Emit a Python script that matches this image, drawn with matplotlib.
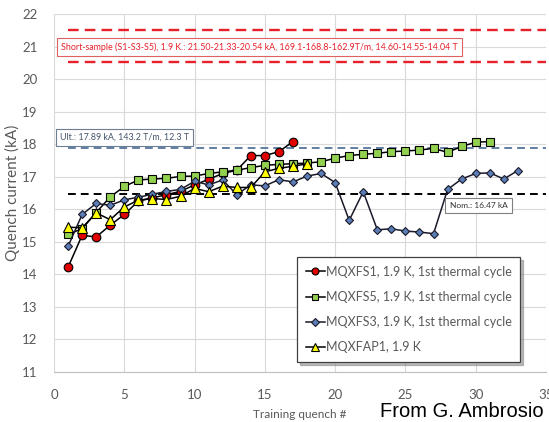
import numpy as np
import matplotlib.pyplot as plt
from matplotlib.lines import Line2D

plt.rcParams['font.family'] = ['Lato', 'DejaVu Sans']

# training quenches
x_s1 = list(range(1, 18))
mqxfs1 = [14.22, 15.2, 15.15, 15.51, 15.84, 16.25, 16.35, 16.45, 16.55, 16.75,
          16.92, 17.1, 17.2, 17.65, 17.65, 17.77, 18.08]

x_s5 = list(range(1, 32))
mqxfs5 = [15.23, 15.4, 15.9, 16.38, 16.7, 16.9, 16.93, 16.95, 17.01, 17.02,
          17.1, 17.15, 17.2, 17.28, 17.35, 17.38, 17.4, 17.42, 17.46, 17.57,
          17.65, 17.69, 17.72, 17.77, 17.79, 17.82, 17.87, 17.75, 17.93, 18.06,
          18.08]

x_s3 = list(range(1, 34))
mqxfs3 = [14.86, 15.84, 16.18, 16.12, 16.29, 16.37, 16.46, 16.55, 16.61, 16.86,
          16.75, 16.9, 16.45, 16.75, 16.72, 16.91, 16.84, 17.02, 17.1, 16.82,
          15.66, 16.54, 15.37, 15.4, 15.33, 15.3, 15.25, 16.61, 16.93, 17.1,
          17.12, 16.93, 17.19]

x_ap1 = list(range(1, 19))
mqxfap1 = [15.45, 15.43, 15.89, 15.68, 16.07, 16.28, 16.33, 16.3, 16.4, 16.64,
           16.54, 16.71, 16.67, 16.67, 17.15, 17.26, 17.32, 17.4]

ref_x = [1, 35]
short_sample = [21.50, 20.54]
ultimate = 17.89
nominal = 16.47

labels = ['MQXFS1, 1.9 K, 1st thermal cycle',
          'MQXFS5, 1.9 K, 1st thermal cycle',
          'MQXFS3, 1.9 K, 1st thermal cycle',
          'MQXFAP1, 1.9 K']

grey = '#595959'

fig = plt.figure(figsize=(5.49, 4.22), dpi=100)
ax = fig.add_axes([54/549, 1-372/422, 492/549, 358/422])

# reference levels
for v in short_sample:
    ax.plot(ref_x, [v, v], color='#E8202A', lw=1.7, dashes=(4.5, 2.6), zorder=2)
ax.plot(ref_x, [ultimate, ultimate], color='#5F7FA3', lw=1.4, dashes=(4, 2.6), zorder=2)
ax.plot(ref_x, [nominal, nominal], color='black', lw=1.4, dashes=(4, 2.6), zorder=2)

ax.plot(x_s1, mqxfs1, color='black', lw=1.1, marker='o', ms=6.2,
        mfc='#E00000', mec='black', mew=0.8, label=labels[0], zorder=3)
ax.plot(x_s5, mqxfs5, color='black', lw=1.1, marker='s', ms=6,
        mfc='#92D050', mec='black', mew=0.8, label=labels[1], zorder=4)
ax.plot(x_s3, mqxfs3, color='#1a1a2a', lw=1.1, marker='D', ms=4.4,
        mfc='#5A7DB5', mec='#1a1a2a', mew=0.8, label=labels[2], zorder=5)
ax.plot(x_ap1, mqxfap1, color='black', lw=1.1, marker='^', ms=7.2,
        mfc='#FFFF00', mec='black', mew=0.8, label=labels[3], zorder=6)

ax.set_xlim(0, 35)
ax.set_ylim(11, 22)
ax.set_xticks(np.arange(0, 36, 5))
ax.set_yticks(np.arange(11, 23, 1))
ax.grid(True, color='#D9D9D9', lw=0.8)
ax.set_axisbelow(True)
for s in ['top', 'right', 'left']:
    ax.spines[s].set_visible(False)
ax.spines['bottom'].set_color('#BFBFBF')
ax.tick_params(length=0, colors=grey, labelsize=9.5)
ax.tick_params(axis='x', pad=12)
ax.tick_params(axis='y', pad=12)
ax.set_xlabel('Training quench #', color=grey, fontsize=8.5, labelpad=6)
ax.set_ylabel('Quench current (kA)', color=grey, fontsize=11, labelpad=1)

ax.text(14.6, 20.98,
        'Short-sample (S1-S3-S5), 1.9 K.: 21.50-21.33-20.54 kA, 169.1-168.8-162.9T/m, 14.60-14.55-14.04 T',
        color='#E8202A', fontsize=6.4, ha='center', va='center', zorder=7,
        bbox=dict(boxstyle='square,pad=0.45', fc='white', ec='#E06060', lw=0.8))
ax.text(5.0, 18.22, 'Ult.: 17.89 kA, 143.2 T/m, 12.3 T',
        color='#44546A', fontsize=6.4, ha='center', va='center', zorder=7,
        bbox=dict(boxstyle='square,pad=0.45', fc='white', ec='#6F7F93', lw=0.8))
ax.text(30.2, 16.11, 'Nom.: 16.47 kA',
        color='#333333', fontsize=6.0, ha='center', va='center', zorder=7,
        bbox=dict(boxstyle='square,pad=0.5', fc='white', ec='#808080', lw=0.8))

handles = [
    Line2D([], [], color='black', lw=1.1, marker='o', ms=5, mfc='#E00000', mec='black', mew=0.8),
    Line2D([], [], color='black', lw=1.1, marker='s', ms=4.8, mfc='#92D050', mec='black', mew=0.8),
    Line2D([], [], color='#1a1a2a', lw=1.1, marker='D', ms=3.6, mfc='#5A7DB5', mec='#1a1a2a', mew=0.8),
    Line2D([], [], color='black', lw=1.1, marker='^', ms=5.6, mfc='#FFFF00', mec='black', mew=0.8),
]
leg = ax.legend(handles, labels, loc='upper left',
                bbox_to_anchor=(297/549, 1-257/422), bbox_transform=fig.transFigure,
                fontsize=9, labelcolor=grey, handlelength=1.5, handletextpad=0.1,
                labelspacing=1.05, borderpad=0.7, borderaxespad=0, fancybox=False,
                edgecolor='#404040', framealpha=1,
                shadow={'color': '0.55', 'alpha': 0.6, 'ox': 2, 'oy': -2})
leg.get_frame().set_linewidth(0.9)
leg.set_zorder(8)

fig.text(380/549, 5/422, 'From G. Ambrosio', family='Liberation Sans',
         fontsize=14.5, color='black', ha='left', va='baseline')

fig.savefig('out.png', dpi=100)
